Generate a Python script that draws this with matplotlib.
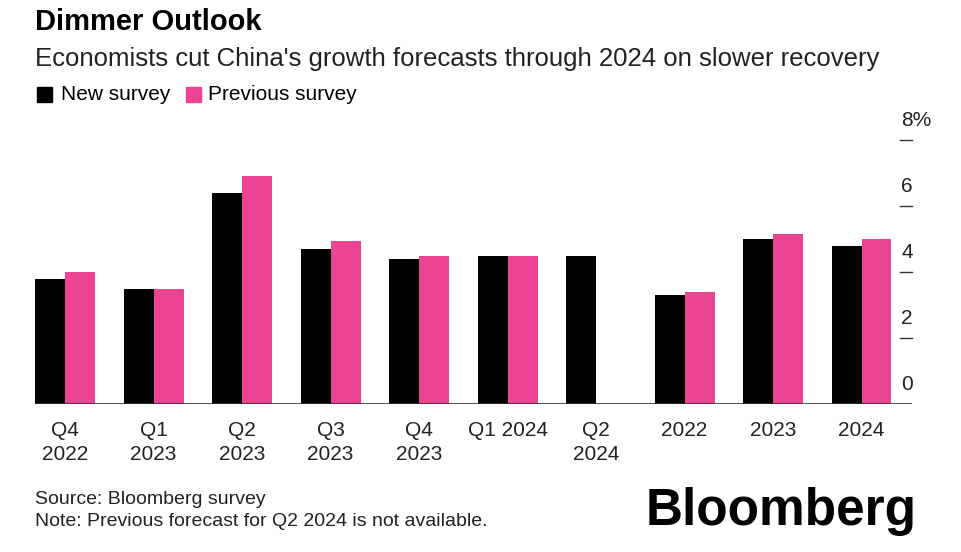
import matplotlib.pyplot as plt
import numpy as np

plt.rcParams["font.family"] = ["Liberation Sans", "DejaVu Sans"]

labels = ["Q4\n2022", "Q1\n2023", "Q2\n2023", "Q3\n2023", "Q4\n2023",
          "Q1 2024", "Q2\n2024", "2022", "2023", "2024"]
new_survey = [3.8, 3.5, 6.4, 4.7, 4.4, 4.5, 4.5, 3.3, 5.0, 4.8]
prev_survey = [4.0, 3.5, 6.9, 4.95, 4.5, 4.5, np.nan, 3.4, 5.15, 5.0]
yticks = [0, 2, 4, 6, 8]

BLACK = "#000000"
PINK = "#ec4493"
W, H = 962, 552

fig = plt.figure(figsize=(W / 100, H / 100), dpi=100)
ax = fig.add_axes([35 / W, 1 - 404 / H, (912 - 35) / W, (404 - 140) / H])

x = np.arange(len(labels))
bw = 30 / 88.5
ax.bar(x - bw / 2, new_survey, bw, color=BLACK)
ax.bar(x + bw / 2, prev_survey, bw, color=PINK)

xl = -30 / 88.5
xr = (912 - 65) / 88.5
ax.set_xlim(xl, xr)
ax.set_ylim(0, 8)
for s in ax.spines.values():
    s.set_visible(False)
ax.axhline(0, color="#333333", lw=1.2, zorder=3)
ax.set_yticks([])
ax.set_xticks([])

tick_x0 = (900 - 65) / 88.5
for t in yticks:
    if t > 0:
        ax.plot([tick_x0, xr], [t, t], color="#333333", lw=1, clip_on=False)
    ax.text((901 - 65) / 88.5, t + 0.3, f"{t}%" if t == 8 else str(t),
            fontsize=15, ha="left", va="bottom", color="#222222")

for i, lab in enumerate(labels):
    ax.text(i, -0.5, lab, ha="center", va="top", fontsize=15,
            linespacing=1.4, color="#222222")

fig.text(35 / W, 1 - 22 / H, "Dimmer Outlook", fontsize=21, fontweight="bold", va="center")
fig.text(35 / W, 1 - 59 / H,
         "Economists cut China's growth forecasts through 2024 on slower recovery",
         fontsize=18.5, va="center", color="#222222")

# legend
fig.patches.append(plt.Rectangle((37 / W, 1 - 102 / H), 15 / W, 15 / H,
                                 color=BLACK, transform=fig.transFigure))
fig.text(61 / W, 1 - 95 / H, "New survey", fontsize=15, va="center")
fig.patches.append(plt.Rectangle((186 / W, 1 - 102 / H), 15 / W, 15 / H,
                                 color=PINK, transform=fig.transFigure))
fig.text(208 / W, 1 - 95 / H, "Previous survey", fontsize=15, va="center")

fig.text(35 / W, 1 - 500 / H, "Source: Bloomberg survey", fontsize=14, va="center", color="#222222")
fig.text(35 / W, 1 - 521 / H, "Note: Previous forecast for Q2 2024 is not available.",
         fontsize=14, va="center", color="#222222")
fig.text(917 / W, 1 - 512 / H, "Bloomberg", fontsize=37, fontweight="bold",
         ha="right", va="center")

fig.savefig("out.png", dpi=100)
